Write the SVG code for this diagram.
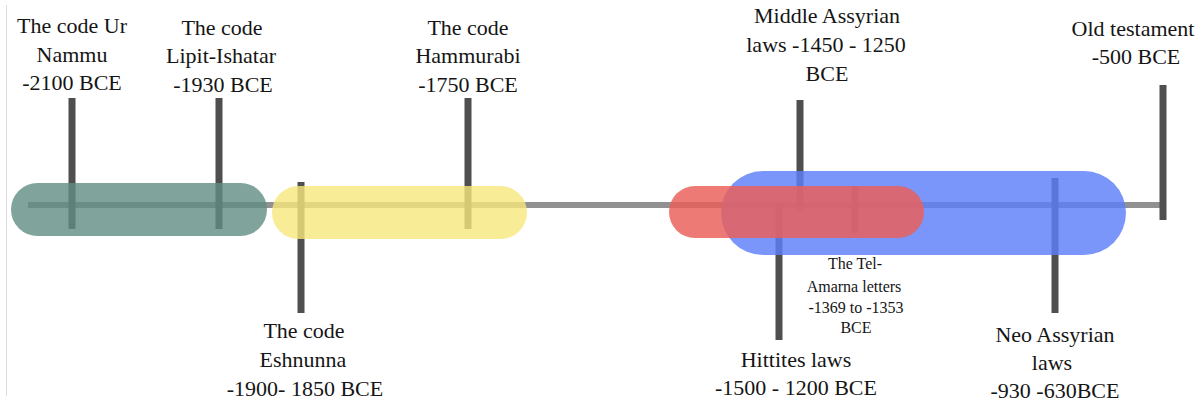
<svg xmlns="http://www.w3.org/2000/svg" width="1203" height="406" viewBox="0 0 1203 406">
  <style>
    .lbl { font-family: 'Liberation Serif', 'Tinos', 'Noto Serif', 'DejaVu Serif', serif; font-size: 22px; fill: #151515; text-anchor: middle; }
    .sm { font-size: 16px; }
    .tick { stroke: #4f4f4f; stroke-width: 7; }
    .axis { stroke: #919191; stroke-width: 6; fill: none; }
  </style>
  <rect width="1203" height="406" fill="#ffffff"/>
  <line x1="6.5" y1="5" x2="6.5" y2="396" stroke="#dcdcdc" stroke-width="1"/>

  <!-- timeline axis -->
  <g id="connectors">
    <line class="axis" x1="28" y1="205" x2="1163" y2="205"/>
  </g>

  <!-- events: tick + caption -->
  <g id="ur-nammu">
    <line class="tick" x1="72" y1="98" x2="72" y2="229"/>
    <text class="lbl" font-family="Liberation Serif, serif"><tspan x="72" y="33">The code Ur</tspan><tspan x="72" y="62">Nammu</tspan><tspan x="72" y="90">-2100 BCE</tspan></text>
  </g>
  <g id="lipit-ishtar">
    <line class="tick" x1="219" y1="98" x2="219" y2="229"/>
    <text class="lbl"><tspan x="222" y="35">The code</tspan><tspan x="221" y="63">Lipit-Ishatar</tspan><tspan x="223" y="92">-1930 BCE</tspan></text>
  </g>
  <g id="eshnunna">
    <line class="tick" x1="301" y1="182" x2="301" y2="313"/>
    <text class="lbl"><tspan x="304" y="338">The code</tspan><tspan x="303" y="367">Eshnunna</tspan><tspan x="305" y="396">-1900- 1850 BCE</tspan></text>
  </g>
  <g id="hammurabi">
    <line class="tick" x1="468" y1="98" x2="468" y2="229"/>
    <text class="lbl"><tspan x="468" y="35">The code</tspan><tspan x="468" y="63">Hammurabi</tspan><tspan x="468" y="92">-1750 BCE</tspan></text>
  </g>
  <g id="middle-assyrian">
    <line class="tick" x1="800" y1="100" x2="800" y2="211"/>
    <text class="lbl"><tspan x="827" y="23">Middle Assyrian</tspan><tspan x="826" y="52">laws -1450 - 1250</tspan><tspan x="827" y="81">BCE</tspan></text>
  </g>
  <g id="hittites">
    <line class="tick" x1="779" y1="204" x2="779" y2="340"/>
    <text class="lbl"><tspan x="796" y="367">Hittites laws</tspan><tspan x="796" y="395">-1500 - 1200 BCE</tspan></text>
  </g>
  <g id="tel-amarna">
    <line class="tick" x1="855" y1="186" x2="855" y2="233"/>
    <text class="lbl sm"><tspan x="855" y="269">The Tel-</tspan><tspan x="854" y="292">Amarna letters</tspan><tspan x="856" y="313">-1369 to -1353</tspan><tspan x="856" y="333">BCE</tspan></text>
  </g>
  <g id="neo-assyrian">
    <line class="tick" x1="1055" y1="178" x2="1055" y2="313"/>
    <text class="lbl"><tspan x="1055" y="342">Neo Assyrian</tspan><tspan x="1052" y="370">laws</tspan><tspan x="1055" y="398">-930 -630BCE</tspan></text>
  </g>
  <g id="old-testament">
    <line class="tick" x1="1163" y1="85" x2="1163" y2="220"/>
    <text class="lbl"><tspan x="1133" y="36">Old testament</tspan><tspan x="1136" y="64">-500 BCE</tspan></text>
  </g>

  <!-- translucent period bands -->
  <g id="period-sumer">
    <rect x="11" y="183" width="256" height="53" rx="26.5" fill="rgb(96,141,131)" fill-opacity="0.8"/>
  </g>
  <g id="period-babylon">
    <rect x="272" y="186" width="255" height="53" rx="26.5" fill="rgb(246,231,124)" fill-opacity="0.8"/>
  </g>
  <g id="period-assyria">
    <rect x="721" y="171" width="405" height="84" rx="42" fill="rgb(93,127,249)" fill-opacity="0.82"/>
  </g>
  <g id="period-hittite">
    <rect x="669" y="186" width="255" height="52" rx="26" fill="rgb(234,95,89)" fill-opacity="0.83"/>
  </g>
</svg>
